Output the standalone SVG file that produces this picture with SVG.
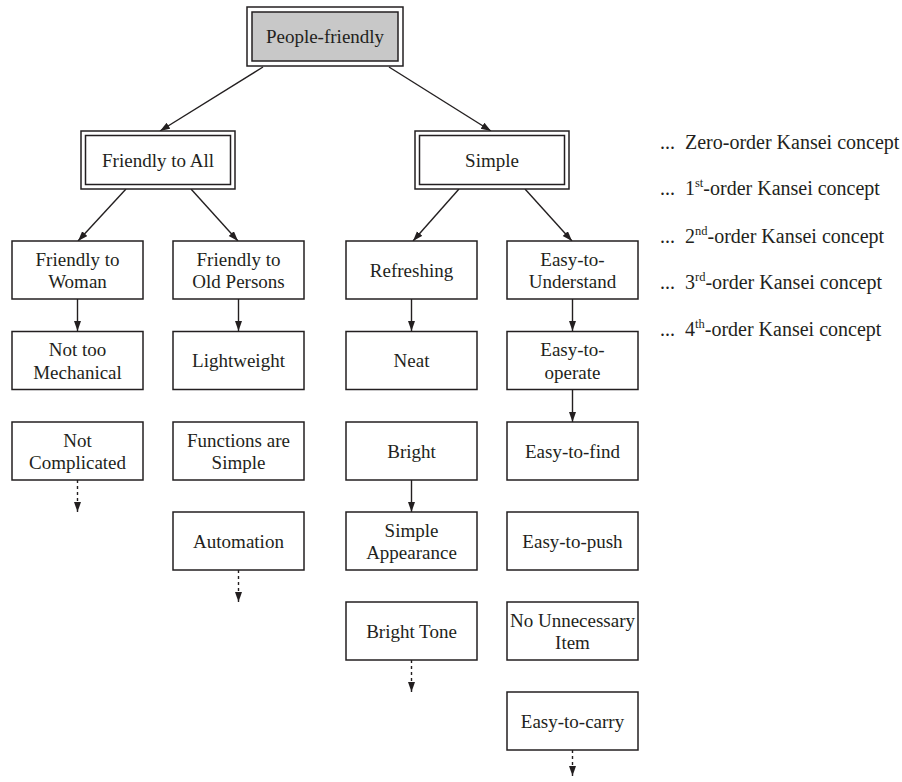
<svg xmlns="http://www.w3.org/2000/svg" width="902" height="782" viewBox="0 0 902 782">
<defs>
<marker id="ah" markerUnits="userSpaceOnUse" markerWidth="11" markerHeight="8" refX="10" refY="3.5" orient="auto">
<path d="M0,0 L10,3.5 L0,7 Z" fill="#231f20"/>
</marker>
<style>
rect{fill:#fff;stroke:#231f20;stroke-width:1.5}
rect.g{fill:#c8c8c8}
text{font-family:"Liberation Serif","Times New Roman",serif;font-size:19px;fill:#231f20;text-anchor:middle}
text.lg{text-anchor:start;font-size:20px}
.c line{stroke:#231f20;stroke-width:1.4;marker-end:url(#ah)}
.c line.d{stroke-dasharray:3,3}
</style>
</defs>
<rect x="0" y="0" width="902" height="782" style="fill:#fff;stroke:none"/>
<g class="c" id="connectors">
<line x1="263" y1="67" x2="160" y2="131"/>
<line x1="389" y1="67" x2="491" y2="131"/>
<line x1="126" y1="189" x2="78" y2="241"/>
<line x1="191" y1="189" x2="238" y2="241"/>
<line x1="459" y1="189" x2="413" y2="241"/>
<line x1="525" y1="189" x2="572" y2="241"/>
<line x1="77.5" y1="299" x2="77.5" y2="331"/>
<line x1="238.5" y1="299" x2="238.5" y2="331"/>
<line x1="411.5" y1="299" x2="411.5" y2="331"/>
<line x1="572.5" y1="299" x2="572.5" y2="331"/>
<line x1="572.5" y1="389" x2="572.5" y2="422"/>
<line x1="411.5" y1="480" x2="411.5" y2="512"/>
<line class="d" x1="77.5" y1="480" x2="77.5" y2="512"/>
<line class="d" x1="238.5" y1="570" x2="238.5" y2="602"/>
<line class="d" x1="411.5" y1="660" x2="411.5" y2="692"/>
<line class="d" x1="572.5" y1="750" x2="572.5" y2="776"/>
</g>
<g id="people-friendly">
<rect x="247" y="7" width="156" height="59"/>
<rect class="g" x="252" y="12" width="146" height="49"/>
<text x="325" y="43">People-friendly</text>
</g>
<g id="friendly-to-all">
<rect x="81" y="131" width="154" height="58"/>
<rect x="85.5" y="135.5" width="145" height="49"/>
<text x="158" y="167">Friendly to All</text>
</g>
<g id="simple">
<rect x="415" y="131" width="154" height="58"/>
<rect x="419.5" y="135.5" width="145" height="49"/>
<text x="492" y="167">Simple</text>
</g>
<g id="friendly-to-woman">
<rect x="12" y="241" width="131" height="58"/>
<text x="77.5" y="265.5">Friendly to</text>
<text x="77.5" y="288">Woman</text>
</g>
<g id="friendly-to-old-persons">
<rect x="173" y="241" width="131" height="58"/>
<text x="238.5" y="265.5">Friendly to</text>
<text x="238.5" y="288">Old Persons</text>
</g>
<g id="refreshing">
<rect x="346" y="241" width="131" height="58"/>
<text x="411.5" y="277">Refreshing</text>
</g>
<g id="easy-to-understand">
<rect x="507" y="241" width="131" height="58"/>
<text x="572.5" y="265.5">Easy-to-</text>
<text x="572.5" y="288">Understand</text>
</g>
<g id="not-too-mechanical">
<rect x="12" y="331.5" width="131" height="58"/>
<text x="77.5" y="356">Not too</text>
<text x="77.5" y="378.5">Mechanical</text>
</g>
<g id="lightweight">
<rect x="173" y="331.5" width="131" height="58"/>
<text x="238.5" y="367">Lightweight</text>
</g>
<g id="neat">
<rect x="346" y="331.5" width="131" height="58"/>
<text x="411.5" y="367">Neat</text>
</g>
<g id="easy-to-operate">
<rect x="507" y="331.5" width="131" height="58"/>
<text x="572.5" y="356">Easy-to-</text>
<text x="572.5" y="378.5">operate</text>
</g>
<g id="not-complicated">
<rect x="12" y="422" width="131" height="58"/>
<text x="77.5" y="446.5">Not</text>
<text x="77.5" y="469">Complicated</text>
</g>
<g id="functions-are-simple">
<rect x="173" y="422" width="131" height="58"/>
<text x="238.5" y="446.5">Functions are</text>
<text x="238.5" y="469">Simple</text>
</g>
<g id="bright">
<rect x="346" y="422" width="131" height="58"/>
<text x="411.5" y="457.5">Bright</text>
</g>
<g id="easy-to-find">
<rect x="507" y="422" width="131" height="58"/>
<text x="572.5" y="457.5">Easy-to-find</text>
</g>
<g id="automation">
<rect x="173" y="512" width="131" height="58"/>
<text x="238.5" y="547.5">Automation</text>
</g>
<g id="simple-appearance">
<rect x="346" y="512" width="131" height="58"/>
<text x="411.5" y="536.5">Simple</text>
<text x="411.5" y="559">Appearance</text>
</g>
<g id="easy-to-push">
<rect x="507" y="512" width="131" height="58"/>
<text x="572.5" y="547.5">Easy-to-push</text>
</g>
<g id="bright-tone">
<rect x="346" y="602" width="131" height="58"/>
<text x="411.5" y="637.5">Bright Tone</text>
</g>
<g id="no-unnecessary-item">
<rect x="507" y="602" width="131" height="58"/>
<text x="572.5" y="626.5">No Unnecessary</text>
<text x="572.5" y="649">Item</text>
</g>
<g id="easy-to-carry">
<rect x="507" y="692" width="131" height="58"/>
<text x="572.5" y="727.5">Easy-to-carry</text>
</g>
<g id="legend">
<text class="lg" x="660" y="149">...</text>
<text class="lg" x="685" y="149">Zero-order Kansei concept</text>
<text class="lg" x="660" y="195">...</text>
<text class="lg" x="685" y="195">1<tspan font-size="12.5" dy="-8">st</tspan><tspan dy="8">-order Kansei concept</tspan></text>
<text class="lg" x="660" y="243">...</text>
<text class="lg" x="685" y="243">2<tspan font-size="12.5" dy="-8">nd</tspan><tspan dy="8">-order Kansei concept</tspan></text>
<text class="lg" x="660" y="289">...</text>
<text class="lg" x="685" y="289">3<tspan font-size="12.5" dy="-8">rd</tspan><tspan dy="8">-order Kansei concept</tspan></text>
<text class="lg" x="660" y="336">...</text>
<text class="lg" x="685" y="336">4<tspan font-size="12.5" dy="-8">th</tspan><tspan dy="8">-order Kansei concept</tspan></text>
</g>
</svg>
